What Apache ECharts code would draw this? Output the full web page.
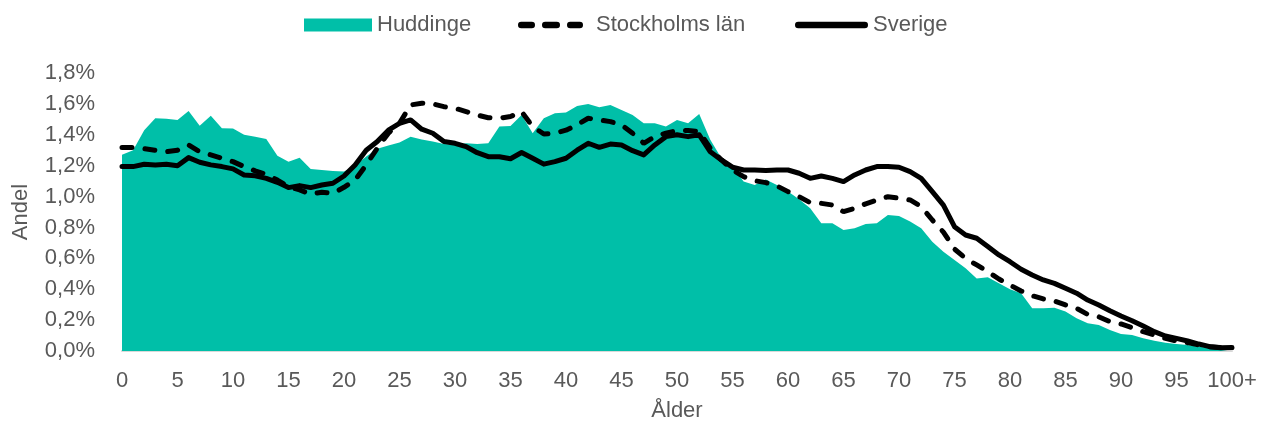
<!DOCTYPE html>
<html>
<head>
<meta charset="utf-8">
<script src="https://cdn.jsdelivr.net/npm/echarts@6/dist/echarts.min.js"></script>
<style>
html,body{margin:0;padding:0;background:#fff;}
#chart{width:1261px;height:423px;}
</style>
</head>
<body>
<div id="chart"></div>
<script>
// Categories: ages 0..99 and "100+"
const ages = [];
for (let i = 0; i < 100; i++) ages.push(String(i));
ages.push('100+');

// Share of population (%) per age
const huddinge = [
  1.27, 1.30, 1.43, 1.507, 1.503, 1.496, 1.554, 1.459, 1.524, 1.442,
  1.44, 1.40, 1.388, 1.373, 1.265, 1.226, 1.252, 1.179, 1.172, 1.166,
  1.162, 1.20, 1.26, 1.31, 1.33, 1.35, 1.388, 1.37, 1.356, 1.34,
  1.334, 1.345, 1.34, 1.345, 1.453, 1.457, 1.528, 1.41, 1.507, 1.539,
  1.545, 1.587, 1.60, 1.578, 1.593, 1.561, 1.528, 1.474, 1.474, 1.453,
  1.496, 1.474, 1.535, 1.367, 1.248, 1.194, 1.097, 1.075, 1.11, 1.075,
  1.032, 0.982, 0.924, 0.827, 0.827, 0.784, 0.795, 0.823, 0.827, 0.881,
  0.874, 0.838, 0.795, 0.708, 0.643, 0.589, 0.535, 0.47, 0.477, 0.438,
  0.40, 0.374, 0.276, 0.276, 0.28, 0.255, 0.212, 0.179, 0.168, 0.136,
  0.11, 0.104, 0.082, 0.067, 0.054, 0.045, 0.039, 0.028, 0.02, 0.015,
  0.012
];
const stockholm = [
  1.317, 1.317, 1.31, 1.30, 1.29, 1.30, 1.334, 1.29, 1.27, 1.248,
  1.226, 1.194, 1.166, 1.144, 1.107, 1.064, 1.043, 1.015, 1.028, 1.02,
  1.06, 1.107, 1.205, 1.313, 1.41, 1.474, 1.593, 1.604, 1.60, 1.582,
  1.572, 1.55, 1.528, 1.51, 1.507, 1.518, 1.55, 1.453, 1.405, 1.41,
  1.43, 1.464, 1.507, 1.496, 1.485, 1.464, 1.41, 1.345, 1.388, 1.41,
  1.427, 1.427, 1.42, 1.313, 1.237, 1.172, 1.129, 1.103, 1.09, 1.069,
  1.032, 0.999, 0.96, 0.956, 0.945, 0.902, 0.924, 0.953, 0.978, 0.999,
  0.989, 0.978, 0.935, 0.848, 0.77, 0.66, 0.60, 0.557, 0.514, 0.466,
  0.427, 0.389, 0.358, 0.337, 0.324, 0.298, 0.276, 0.237, 0.222, 0.19,
  0.175, 0.151, 0.125, 0.104, 0.082, 0.065, 0.054, 0.039, 0.028, 0.022,
  0.02
];
const sverige = [
  1.194, 1.194, 1.209, 1.205, 1.209, 1.20, 1.252, 1.222, 1.205, 1.194,
  1.179, 1.14, 1.135, 1.118, 1.092, 1.058, 1.071, 1.058, 1.075, 1.086,
  1.133, 1.205, 1.30, 1.356, 1.43, 1.474, 1.496, 1.436, 1.41, 1.356,
  1.345, 1.323, 1.284, 1.258, 1.258, 1.245, 1.285, 1.248, 1.21, 1.226,
  1.248, 1.30, 1.345, 1.319, 1.34, 1.334, 1.297, 1.27, 1.334, 1.388,
  1.40, 1.388, 1.40, 1.29, 1.237, 1.19, 1.172, 1.172, 1.168, 1.172,
  1.172, 1.151, 1.118, 1.133, 1.118, 1.097, 1.14, 1.172, 1.194, 1.194,
  1.19, 1.161, 1.118, 1.032, 0.945, 0.805, 0.751, 0.73, 0.676, 0.622,
  0.578, 0.529, 0.492, 0.46, 0.438, 0.406, 0.374, 0.33, 0.298, 0.261,
  0.227, 0.196, 0.162, 0.125, 0.097, 0.082, 0.065, 0.045, 0.028, 0.021,
  0.023
];

const seriesNames = ['Huddinge', 'Stockholms län', 'Sverige'];
const xAxisName = 'Ålder';
const yAxisName = 'Andel';

const FONT = '"Liberation Sans", Arial, sans-serif';
const TEXT = '#595959';
const TEAL = '#00BFA8';

// legend glyphs: dashed in a 73 x 13 box (drawn 0..65), solid in a 73 x 13 box
const dashIcon = 'path://M0,0h0.01v0.01z M72.99,12.99h0.01v0.01z ' +
  'M3.25,3.25h10.5a3.25,3.25 0 0 1 0,6.5h-10.5a3.25,3.25 0 0 1 0,-6.5z ' +
  'M27.25,3.25h11.5a3.25,3.25 0 0 1 0,6.5h-11.5a3.25,3.25 0 0 1 0,-6.5z ' +
  'M52.25,3.25h9.5a3.25,3.25 0 0 1 0,6.5h-9.5a3.25,3.25 0 0 1 0,-6.5z';
const solidIcon = 'path://M0,0h0.01v0.01z M72.99,12.99h0.01v0.01z ' +
  'M3.25,3.25h66.5a3.25,3.25 0 0 1 0,6.5h-66.5a3.25,3.25 0 0 1 0,-6.5z';

function legendAt(left, w, item) {
  return {
    top: 9,
    left: left,
    itemWidth: w,
    itemHeight: 13,
    itemGap: 0,
    textStyle: {fontFamily: FONT, fontSize: 22, color: TEXT},
    data: [item]
  };
}

const chart = echarts.init(document.getElementById('chart'), null, {renderer: 'canvas'});
chart.setOption({
  animation: false,
  backgroundColor: '#ffffff',
  textStyle: {fontFamily: FONT},
  legend: [
    legendAt(299, 68, {name: seriesNames[0], icon: 'rect', itemStyle: {color: TEAL}}),
    legendAt(513, 73, {name: seriesNames[1], icon: dashIcon, itemStyle: {color: '#000', borderWidth: 0}, lineStyle: {width: 0}}),
    legendAt(790, 73, {name: seriesNames[2], icon: solidIcon, itemStyle: {color: '#000', borderWidth: 0}, lineStyle: {width: 0}})
  ],
  grid: {left: 122, right: 29, top: 73, bottom: 72, containLabel: false, outerBoundsMode: 'none'},
  xAxis: {
    type: 'category',
    data: ages,
    boundaryGap: false,
    name: xAxisName,
    nameLocation: 'middle',
    nameGap: 49,
    nameTextStyle: {fontFamily: FONT, fontSize: 22, color: TEXT},
    axisLine: {show: true, lineStyle: {color: '#D9D9D9', width: 2}},
    axisTick: {show: false},
    axisLabel: {interval: 4, margin: 19, fontFamily: FONT, fontSize: 22, color: TEXT},
    splitLine: {show: false}
  },
  yAxis: {
    type: 'value',
    min: 0,
    max: 1.8,
    interval: 0.2,
    name: yAxisName,
    nameLocation: 'middle',
    nameGap: 90,
    nameRotate: 90,
    nameTextStyle: {fontFamily: FONT, fontSize: 22, color: TEXT},
    axisLine: {show: false},
    axisTick: {show: false},
    splitLine: {show: false},
    axisLabel: {
      margin: 27,
      fontFamily: FONT, fontSize: 22, color: TEXT,
      formatter: v => v.toFixed(1).replace('.', ',') + '%'
    }
  },
  series: [
    {
      name: seriesNames[0],
      type: 'line',
      data: huddinge,
      symbol: 'none',
      lineStyle: {width: 0, color: TEAL},
      itemStyle: {color: TEAL},
      areaStyle: {color: TEAL, opacity: 1},
      z: 1
    },
    {
      name: seriesNames[1],
      type: 'line',
      data: stockholm,
      symbol: 'none',
      itemStyle: {color: '#000'},
      lineStyle: {color: '#000', width: 5, type: [10, 13], cap: 'round'},
      z: 2
    },
    {
      name: seriesNames[2],
      type: 'line',
      data: sverige,
      symbol: 'none',
      itemStyle: {color: '#000'},
      lineStyle: {color: '#000', width: 5, cap: 'round', join: 'round'},
      z: 3
    }
  ]
});
</script>
</body>
</html>
